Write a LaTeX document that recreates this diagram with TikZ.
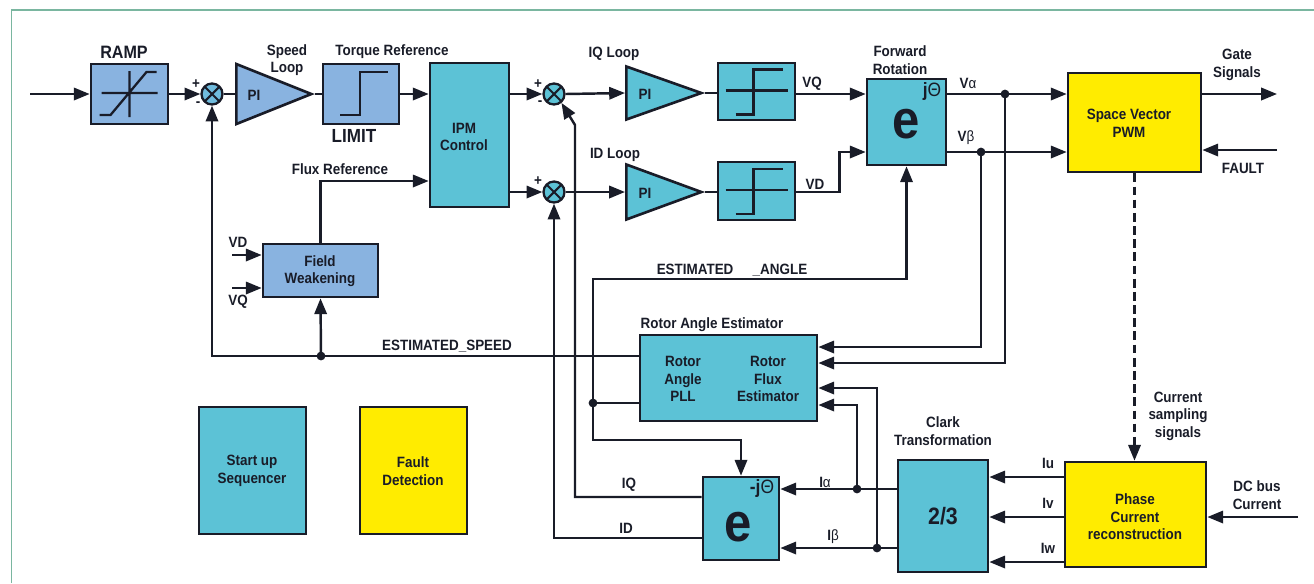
\documentclass[tikz,border=0pt]{standalone}
\usepackage{fontspec}
\setmainfont[FakeStretch=0.9]{Liberation Sans}
\usetikzlibrary{shapes.geometric,arrows.meta}
\definecolor{ink}{RGB}{25,28,40}
\definecolor{lblue}{RGB}{137,179,224}
\definecolor{cyn}{RGB}{92,194,214}
\definecolor{sumc}{RGB}{112,188,222}
\definecolor{yel}{RGB}{255,236,0}
\definecolor{frm}{RGB}{122,182,160}
\tikzset{
    txt/.style={font=\bfseries\fontsize{8.5}{10}\selectfont, text=ink, inner sep=0pt, align=center},
    sz/.style 2 args={minimum width=#1*0.02cm, minimum height=#2*0.02cm},
    blk/.style={draw=ink, line width=1.5pt, inner sep=0pt},
    sum/.style={circle, draw=ink, line width=1.3pt, fill=cyn, minimum size=21*0.02cm, inner sep=0pt,
        path picture={\draw[ink, line width=1.2pt] (path picture bounding box.north west) -- (path picture bounding box.south east)
            (path picture bounding box.south west) -- (path picture bounding box.north east);}},
    amp/.style={isosceles triangle, isosceles triangle stretches, draw=ink, line width=1.5pt, inner sep=0pt, anchor=lower side},
    ln/.style={draw=ink, line width=1.4pt},
    arr/.style={ln, -{Triangle[length=9pt,width=7pt]}},
    dot/.style={circle, fill=ink, inner sep=0pt, minimum size=5pt}
}
\begin{document}
\begin{tikzpicture}[x=0.02cm, y=-0.02cm]
        \useasboundingbox (0,0) rectangle (1314,583);
        \draw[frm, line width=1pt] (11.5,583) -- (11.5,10) -- (1314,10);

        % blocks
        \node[blk, fill=lblue, sz={77}{60}] (RAMP) at (129.5,94) {};
        \node[sum, fill=sumc] (S1) at (212,94) {};
        \node[amp, fill=lblue, minimum height=75*0.02cm, minimum width=60*0.02cm] (SPI) at (235,94) {};
        \node[blk, fill=lblue, sz={76}{60}] (LIM) at (361,94) {};
        \node[blk, fill=cyn, sz={79}{144}] (IPM) at (469.5,135) {};
        \node[sum] (S2) at (554,94) {};
        \node[sum] (S3) at (554,192) {};
        \node[amp, fill=cyn, minimum height=75*0.02cm, minimum width=53*0.02cm] (IQPI) at (625,93) {};
        \node[amp, fill=cyn, minimum height=75*0.02cm, minimum width=55*0.02cm] (IDPI) at (625,192) {};
        \node[blk, fill=cyn, sz={77}{57}] (IQSAT) at (756.5,91.5) {};
        \node[blk, fill=cyn, sz={77}{58}] (IDSAT) at (756.5,191) {};
        \node[blk, fill=cyn, sz={79}{86}] (FR) at (906.5,122) {};
        \node[blk, fill=yel, sz={133}{99}] (SVPWM) at (1134.5,122.5) {};
        \node[blk, fill=yel, sz={141}{105}] (PCR) at (1135.5,514.5) {};
        \node[blk, fill=cyn, sz={90}{112}] (CLK) at (943,516) {};
        \node[blk, fill=cyn, sz={76}{83}] (IR) at (741,518.5) {};
        \node[blk, fill=cyn, sz={177}{86}] (RAE) at (728.5,378) {};
        \node[blk, fill=lblue, sz={115}{53}] (FW) at (320.5,270.5) {};
        \node[blk, fill=cyn, sz={107}{127}] (SUS) at (252.5,470.5) {};
        \node[blk, fill=yel, sz={107}{127}] (FD) at (413.5,470.5) {};

        % symbols inside the blocks
        \draw[ink, line width=1.3pt] ([shift={(-28,-1)}]RAMP.center) -- ++(56,0)
            ([shift={(0,-23)}]RAMP.center) -- ++(0,46)
            ([shift={(-30,21)}]RAMP.center) -- ++(11,0) -- ++(36,-43) -- ++(10,0);
        \draw[ink, line width=1.3pt] ([shift={(-21,21)}]LIM.center) -- ++(20,0) -- ++(0,-43) -- ++(28,0);
        \foreach \b in {IQSAT,IDSAT}
            \draw[ink, line width=1.3pt] ([shift={(-31,-1)}]\b.center) -- ++(62,0)
                ([shift={(-21,23)}]\b.center) -- ++(18,0) -- ++(0,-45) -- ++(29,0);

        % texts
        \node[txt, font=\bfseries\fontsize{10.2}{11}\selectfont] (tRAMP) at (124,52) {RAMP};
        \node[txt] (tSPI) at (254,95) {PI};
        \node[txt] (tSL) at (287,60) {Speed\\Loop};
        \node[txt] (tTR) at (392,52) {Torque Reference};
        \node[txt, font=\bfseries\fontsize{10.8}{12}\selectfont] (tLIM) at (354,136) {LIMIT};
        \node[txt] (tFLX) at (340,169) {Flux Reference};
        \node[txt] (tIPM) at (464,137) {IPM\\Control};
        \node[txt] (tP1) at (196,84) {+};
        \node[txt] (tM1) at (198,104) {-};
        \node[txt] (tP2) at (538,84) {+};
        \node[txt] (tM2) at (540,103) {-};
        \node[txt] (tP3) at (538,181) {+};
        \node[txt] (tIQL) at (614,54) {IQ Loop};
        \node[txt] (tIDL) at (615,155) {ID Loop};
        \node[txt] (tIQPI) at (645,94) {PI};
        \node[txt] (tIDPI) at (645,193) {PI};
        \node[txt] (tVQ) at (812,84) {VQ};
        \node[txt] (tVD) at (815,184) {VD};
        \node[txt] (tFWR) at (900,60) {Forward\\Rotation};
        \node[txt, font=\bfseries\fontsize{31}{31}\selectfont] (eFR) at (906,124) {e};
        \node[txt, font=\bfseries\fontsize{11}{11}\selectfont] (xFR) at (932,91) {j\textmd{Θ}};
        \node[txt] (tVA) at (968,83) {V\textmd{α}};
        \node[txt] (tVB) at (966,138) {V\textmd{β}};
        \node[txt] (tSV) at (1129,123) {Space Vector\\PWM};
        \node[txt] (tGS) at (1237,65) {Gate\\Signals};
        \node[txt] (tFLT) at (1243,168) {FAULT};
        \node[txt] (tCSS) at (1178,416) {Current\\sampling\\signals};
        \node[txt] (tDC) at (1257,495) {DC bus\\Current};
        \node[txt] (tPCR) at (1135,517) {Phase\\Current\\reconstruction};
        \node[txt] (tCLK) at (943,431) {Clark\\Transformation};
        \node[txt, font=\bfseries\fontsize{13.5}{14}\selectfont] (t23) at (943,516) {2/3};
        \node[txt, font=\bfseries\fontsize{31}{31}\selectfont] (eIR) at (738,527) {e};
        \node[txt, font=\bfseries\fontsize{11}{11}\selectfont] (xIR) at (762,488) {-j\textmd{Θ}};
        \node[txt] (tREA) at (712,325) {Rotor Angle Estimator};
        \node[txt] (tPLL) at (683,379) {Rotor\\Angle\\PLL};
        \node[txt] (tRFE) at (768,379) {Rotor\\Flux\\Estimator};
        \node[txt] (tANG) at (732,270) {ESTIMATED\hspace{11pt}\_ANGLE};
        \node[txt] (tSPD) at (447,346) {ESTIMATED\_SPEED};
        \node[txt] (tFW) at (320,271) {Field\\Weakening};
        \node[txt] (tVD2) at (238,242) {VD};
        \node[txt] (tVQ2) at (238,302) {VQ};
        \node[txt] (tSUS) at (252,471) {Start up\\Sequencer};
        \node[txt] (tFD) at (413,471) {Fault\\Detection};

        % junctions
        \coordinate (IN) at (30,94);
        \coordinate (VA) at (1005,94);
        \coordinate (VB) at (981,152);
        \coordinate (IA) at (857,489);
        \coordinate (IB) at (877,548);
        \coordinate (ANG) at (593,403);
        \coordinate (SPD) at (321,356);

        % connectors
        \draw[arr] (IN) -- (RAMP.west);
        \draw[arr] (RAMP.east) -- (S1.west);
        \draw[ln] (S1.east) -- (SPI.lower side);
        \draw[ln] (SPI.apex) -- (LIM.west);
        \draw[arr] (LIM.east) -- (LIM.east -| IPM.west);
        \draw[arr] (FW.north) |- (IPM.west |- 0,181);
        \draw[arr] (IPM.east |- S2) -- (S2.west);
        \draw[arr] (IPM.east |- S3) -- (S3.west);
        \draw[arr] (S2.east) -- (IQPI.lower side);
        \draw[arr] (S3.east) -- (IDPI.lower side);
        \draw[ln] (IQPI.apex) -- (IQSAT.west |- IQPI.apex);
        \draw[ln] (IDPI.apex) -- (IDSAT.west |- IDPI.apex);
        \draw[arr] (IQSAT.east |- S2) -- (FR.west |- S2);
        \draw[arr] (IDSAT.east |- S3) -- ++(43,0) |- (FR.west |- VB);
        \draw[arr] (FR.east |- VA) -- (SVPWM.west |- VA);
        \draw[arr] (FR.east |- VB) -- (SVPWM.west |- VB);
        \draw[arr] (SVPWM.east |- VA) -- (1277,94);
        \draw[arr] (1277,150) -- (SVPWM.east |- 0,150);
        \draw[arr, dash pattern=on 5pt off 2.5pt] (SVPWM.south) -- (SVPWM.south |- PCR.north);
        \foreach \y/\t/\p in {477/Iu/a, 517/Iv/b, 562/Iw/c}
            \draw[arr] (PCR.west |- 0,\y) -- (CLK.east |- 0,\y)
                node[txt, pos=0.21, above=4pt] (tI\p) {\t};
        \draw[arr] (1298,517) -- (PCR.east |- 0,517);
        \draw[arr] (CLK.west |- IA) -- (IR.east |- IA);
        \draw[arr] (CLK.west |- IB) -- (IR.east |- IB);
        \node[txt] (tIA) at (825,482) {I\textmd{α}};
        \node[txt] (tIB) at (833,537) {I\textmd{β}};
        \draw[arr] (VB) |- (RAE.east |- 0,347);
        \draw[arr] (VA) |- (RAE.east |- 0,363);
        \draw[arr] (IB) |- (RAE.east |- 0,388);
        \draw[arr] (IA) |- (RAE.east |- 0,405);
        \draw[ln] (RAE.west |- ANG) -- (ANG);
        \draw[arr] (ANG) |- (FR.south |- 0,279) -- (FR.south);
        \draw[arr] (ANG) |- (IR.north |- 0,440) -- (IR.north);
        \draw[arr] (RAE.west |- SPD) -| (S1.south);
        \draw[arr] (SPD) -- (FW.south);
        \draw[arr] (IR.west |- 0,497) -| (575,125) -- (S2.-50);
        \node[txt] (tIQ) at (629,485) {IQ};
        \draw[arr] (IR.west |- 0,538) -| (S3.south);
        \node[txt] (tID) at (626,528) {ID};
        \draw[arr] (232,255) -- (FW.west |- 0,255);
        \draw[arr] (232,288) -- (FW.west |- 0,288);
        \foreach \d in {VA,VB,IA,IB,ANG,SPD}
            \node[dot] at (\d) {};
\end{tikzpicture}
\end{document}
